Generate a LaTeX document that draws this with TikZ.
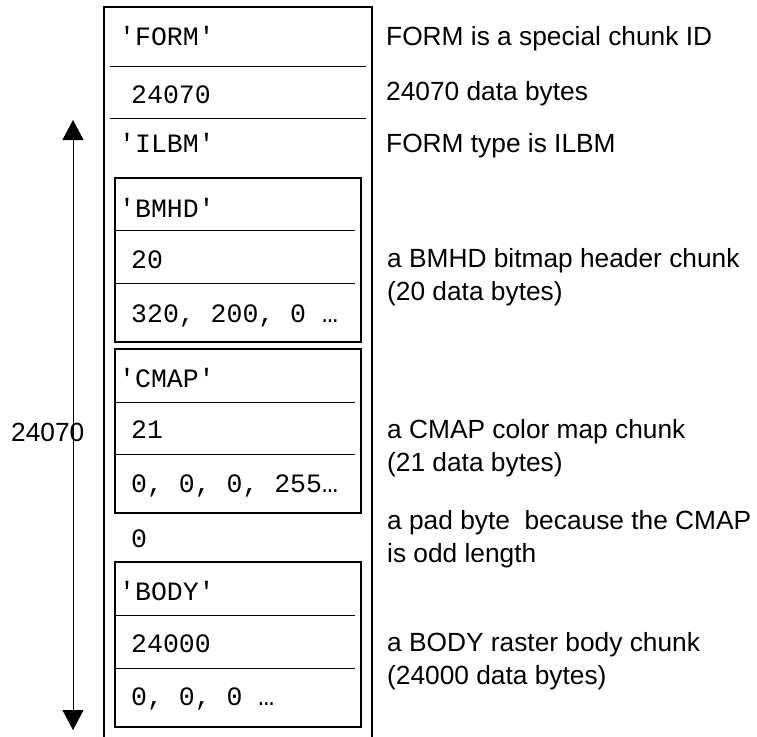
\documentclass[tikz,border=0pt]{standalone}
\usepackage{fontspec}
\setmainfont{Liberation Sans}
\setmonofont{Liberation Mono}
\usetikzlibrary{arrows.meta}
\begin{document}
\begin{tikzpicture}[x=1pt,y=-1pt,
  mono/.style={anchor=base west,inner sep=0pt,font=\ttfamily\fontsize{26.5}{32}\selectfont},
  note/.style={anchor=base west,inner sep=0pt,align=left,font=\fontsize{26.3}{33}\selectfont},
  outerbox/.style={line width=2pt},
  chunkbox/.style={line width=2.2pt},
  sepline/.style={line width=0.9pt},
  dimline/.style={line width=0.9pt,{Triangle[length=20pt,width=21pt]}-{Triangle[length=20pt,width=21pt]}}]
\useasboundingbox (0,0) rectangle (757,736);
% outer FORM box (open at the bottom)
\draw[outerbox] (104,740) -- (104,7) -- (372,7) -- (372,740);
\draw[sepline] (110,66) -- (366,66);
\draw[sepline] (110,118) -- (366,118);
% chunk boxes
\draw[chunkbox] (115,178) rectangle (361,342);
\draw[sepline] (115,230) -- (355,230);
\draw[sepline] (115,283) -- (355,283);
\draw[chunkbox] (115,349) rectangle (361,513);
\draw[sepline] (115,402) -- (355,402);
\draw[sepline] (115,454) -- (355,454);
\draw[chunkbox] (115,562) rectangle (361,727);
\draw[sepline] (115,615) -- (355,615);
\draw[sepline] (115,668) -- (355,668);
% mono texts
\node[mono] (t1) at (119,45) {'FORM'};
\node[mono] (t2) at (131,103) {24070};
\node[mono] (t3) at (119,152) {'ILBM'};
\node[mono] (t4) at (119,217) {'BMHD'};
\node[mono] (t5) at (131,268) {20};
\node[mono] (t6) at (131,322) {320, 200, 0 …};
\node[mono] (t7) at (119,387) {'CMAP'};
\node[mono] (t8) at (131,438) {21};
\node[mono] (t9) at (131,492) {0, 0, 0, 255…};
\node[mono] (t10) at (131,547) {0};
\node[mono] (t11) at (119,600) {'BODY'};
\node[mono] (t12) at (131,652) {24000};
\node[mono] (t13) at (131,705) {0, 0, 0 …};
% notes (multi-line nodes are placed by their last baseline)
\node[note] (n1) at (386,45) {FORM is a special chunk ID};
\node[note] (n2) at (386,100) {24070 data bytes};
\node[note] (n3) at (386,152) {FORM type is ILBM};
\node[note] (n4) at (387,300) {a BMHD bitmap header chunk\\(20 data bytes)};
\node[note] (n5) at (387,471) {a CMAP color map chunk\\(21 data bytes)};
\node[note] (n6) at (387,562) {a pad byte\ \ because the CMAP\\is odd length};
\node[note] (n7) at (387,684) {a BODY raster body chunk\\(24000 data bytes)};
% dimension arrow
\coordinate (top) at (73,120);
\coordinate (bot) at (73,730);
\draw[dimline] (top) -- (bot);
\node[note] (len) at (11,441) {24070};
\end{tikzpicture}
\end{document}
